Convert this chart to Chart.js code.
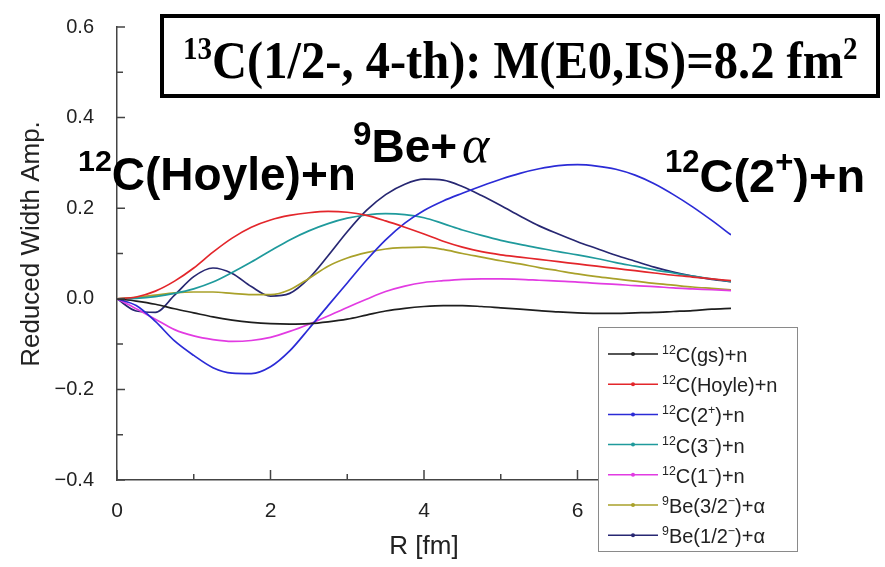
<!DOCTYPE html>
<html>
<head>
<meta charset="utf-8">
<script src="https://cdn.jsdelivr.net/npm/chart.js@4.4.1/dist/chart.umd.min.js"></script>
<style>
  html, body { margin: 0; padding: 0; background: #fff; }
  #wrap { width: 885px; height: 567px; }
</style>
</head>
<body>
<div id="wrap"><canvas id="widthChart" width="885" height="567"></canvas></div>
<script>
// R grid [fm]
const radius = [0, 0.25, 0.5, 0.75, 1, 1.25, 1.5, 1.75, 2, 2.25, 2.5, 2.75, 3, 3.25, 3.5, 3.75,
                4, 4.25, 4.5, 4.75, 5, 5.25, 5.5, 5.75, 6, 6.25, 6.5, 6.75, 7, 7.25, 7.5, 7.75, 8];

// reduced width amplitudes
const c12gs = [0, -0.005, -0.012, -0.022, -0.031, -0.040, -0.047, -0.052, -0.055, -0.056, -0.055, -0.051, -0.045, -0.036,
               -0.027, -0.021, -0.017, -0.015, -0.015, -0.017, -0.020, -0.023, -0.026, -0.029, -0.031, -0.032, -0.032,
               -0.031, -0.030, -0.028, -0.026, -0.023, -0.021];
const c12hoyle = [0, 0.004, 0.017, 0.039, 0.068, 0.103, 0.134, 0.158, 0.174, 0.184, 0.190, 0.193, 0.191, 0.184, 0.172,
                  0.158, 0.143, 0.127, 0.114, 0.104, 0.097, 0.092, 0.087, 0.082, 0.077, 0.072, 0.067, 0.062, 0.057,
                  0.052, 0.048, 0.044, 0.040];
const c12twoPlus = [0, -0.015, -0.050, -0.093, -0.125, -0.152, -0.164, -0.165, -0.150, -0.115, -0.066, -0.015, 0.035,
                    0.085, 0.130, 0.167, 0.195, 0.216, 0.233, 0.249, 0.264, 0.277, 0.287, 0.294, 0.296, 0.293, 0.286,
                    0.273, 0.254, 0.230, 0.203, 0.173, 0.141];
const c12threeMinus = [0, 0.001, 0.005, 0.012, 0.022, 0.037, 0.058, 0.081, 0.106, 0.130, 0.150, 0.166, 0.178, 0.185,
                       0.188, 0.186, 0.179, 0.166, 0.152, 0.140, 0.129, 0.120, 0.112, 0.104, 0.097, 0.089, 0.080, 0.072,
                       0.064, 0.057, 0.050, 0.044, 0.038];
const c12oneMinus = [0, -0.022, -0.045, -0.068, -0.082, -0.090, -0.094, -0.092, -0.085, -0.072, -0.056, -0.038, -0.019,
                     -0.001, 0.016, 0.028, 0.036, 0.040, 0.043, 0.044, 0.044, 0.043, 0.041, 0.039, 0.037, 0.034, 0.032,
                     0.029, 0.027, 0.024, 0.022, 0.020, 0.018];
const be9ThreeHalf = [0, 0.003, 0.008, 0.013, 0.015, 0.015, 0.012, 0.009, 0.009, 0.020, 0.045, 0.072, 0.090, 0.102,
                      0.110, 0.113, 0.114, 0.109, 0.100, 0.092, 0.084, 0.077, 0.069, 0.062, 0.055, 0.049, 0.044, 0.039,
                      0.034, 0.030, 0.026, 0.023, 0.020];
const be9OneHalf = [0, -0.027, -0.030, 0.008, 0.049, 0.068, 0.056, 0.027, 0.006, 0.012, 0.045, 0.095, 0.148, 0.195,
                    0.230, 0.253, 0.264, 0.262, 0.248, 0.228, 0.206, 0.183, 0.161, 0.143, 0.126, 0.111, 0.096, 0.083,
                    0.070, 0.059, 0.050, 0.043, 0.038];

const seriesNames = ['^{12}C(gs)+n', '^{12}C(Hoyle)+n', '^{12}C(2^{+})+n', '^{12}C(3^{\u2212})+n',
                     '^{12}C(1^{\u2212})+n', '^{9}Be(3/2^{\u2212})+\u03b1', '^{9}Be(1/2^{\u2212})+\u03b1'];
const seriesColors = ['#1e1e1e', '#e3262b', '#2b2bd6', '#1f9a9c', '#e23be2', '#a9a12a', '#272772'];
const seriesValues = [c12gs, c12hoyle, c12twoPlus, c12threeMinus, c12oneMinus, be9ThreeHalf, be9OneHalf];

const xMajorTicks = [0, 2, 4, 6, 8];
const xMinorTicks = [1, 3, 5, 7];
const yMajorTicks = [-0.4, -0.2, 0, 0.2, 0.4, 0.6];
const yMinorTicks = [-0.3, -0.1, 0.1, 0.3, 0.5];

const sans = '"Liberation Sans", Arial, sans-serif';
const serif = '"Liberation Serif", "Times New Roman", serif';

// draws text with ^{...} superscripts, returns end x
function drawRich(ctx, text, x, y, f) {
  const parts = text.split(/(\^\{[^}]*\})/);
  parts.forEach(p => {
    if (!p) return;
    const sup = p.startsWith('^{');
    const s = sup ? p.slice(2, -1) : p;
    const size = sup ? f.size * f.supScale : f.size;
    ctx.font = `${f.style || ''} ${f.weight || ''} ${size}px ${f.family}`;
    ctx.fillText(s, x, sup ? y - f.size * f.supRise : y);
    x += ctx.measureText(s).width;
  });
  return x;
}

const overlayPlugin = {
  id: 'overlay',
  afterDraw(chart) {
    const ctx = chart.ctx;
    const xs = chart.scales.x, ys = chart.scales.y;
    const area = chart.chartArea;
    ctx.save();

    // inward tick marks
    ctx.strokeStyle = '#444';
    ctx.lineWidth = 1.5;
    ctx.beginPath();
    yMajorTicks.forEach(v => { const p = ys.getPixelForValue(v); ctx.moveTo(area.left, p); ctx.lineTo(area.left + 8, p); });
    yMinorTicks.forEach(v => { const p = ys.getPixelForValue(v); ctx.moveTo(area.left, p); ctx.lineTo(area.left + 6, p); });
    xMajorTicks.forEach(v => { const p = xs.getPixelForValue(v); ctx.moveTo(p, area.bottom); ctx.lineTo(p, area.bottom - 10); });
    xMinorTicks.forEach(v => { const p = xs.getPixelForValue(v); ctx.moveTo(p, area.bottom); ctx.lineTo(p, area.bottom - 6); });
    ctx.stroke();

    // y axis title
    ctx.save();
    ctx.translate(32, 244);
    ctx.rotate(-Math.PI / 2);
    ctx.fillStyle = '#222';
    ctx.font = `26px ${sans}`;
    ctx.textAlign = 'center';
    ctx.textBaseline = 'middle';
    ctx.fillText('Reduced Width Amp.', 0, 0);
    ctx.restore();

    // legend
    ctx.fillStyle = '#fff';
    ctx.fillRect(598, 327, 199, 224);
    ctx.strokeStyle = '#8a8a8a';
    ctx.lineWidth = 1;
    ctx.strokeRect(598.5, 327.5, 199, 224);
    ctx.textBaseline = 'alphabetic';
    seriesNames.forEach((name, i) => {
      const ly = 354 + i * 30.2;
      ctx.strokeStyle = seriesColors[i];
      ctx.lineWidth = 1.5;
      ctx.beginPath(); ctx.moveTo(608, ly); ctx.lineTo(658, ly); ctx.stroke();
      ctx.fillStyle = seriesColors[i];
      ctx.beginPath(); ctx.arc(633, ly, 2, 0, Math.PI * 2); ctx.fill();
      ctx.fillStyle = '#222';
      drawRich(ctx, name, 662, ly + 8, { size: 20, family: sans, supScale: 0.62, supRise: 0.4 });
    });

    // big annotations
    ctx.fillStyle = '#000';
    const big = { size: 46, weight: 'bold', family: sans, supScale: 0.66, supRise: 0.42 };
    drawRich(ctx, '^{12}C(Hoyle)+n', 78, 190, big);
    drawRich(ctx, '^{12}C(2^{+})+n', 665, 192, { ...big, size: 47 });
    let ex = drawRich(ctx, '^{9}Be+', 353, 162, { ...big, supScale: 0.72, supRise: 0.36 });
    ctx.font = `italic 52px ${serif}`;
    ctx.fillText('\u03b1', ex + 5, 162);

    // title box
    ctx.fillStyle = '#fff';
    ctx.fillRect(162, 16, 716, 80);
    ctx.strokeStyle = '#000';
    ctx.lineWidth = 4;
    ctx.strokeRect(162, 16, 716, 80);
    ctx.fillStyle = '#000';
    ctx.save();
    ctx.translate(183, 78);
    ctx.scale(0.915, 1);
    drawRich(ctx, '^{13}C(1/2-, 4-th): M(E0,IS)=8.2 fm^{2}', 0, 0,
             { size: 53, weight: 'bold', family: serif, supScale: 0.6, supRise: 0.36 });
    ctx.restore();

    ctx.restore();
  }
};

const ctx = document.getElementById('widthChart').getContext('2d');
new Chart(ctx, {
  type: 'line',
  data: {
    datasets: seriesValues.map((vals, i) => ({
      label: seriesNames[i],
      data: radius.map((r, k) => ({ x: r, y: vals[k] })),
      borderColor: seriesColors[i],
      borderWidth: 1.7,
      pointRadius: 0,
      fill: false,
      cubicInterpolationMode: 'monotone'
    }))
  },
  options: {
    responsive: false,
    animation: false,
    devicePixelRatio: 1,
    layout: { padding: { left: 0, right: 154, top: 27, bottom: 0 } },
    plugins: { legend: { display: false }, tooltip: { enabled: false }, title: { display: false } },
    scales: {
      x: {
        type: 'linear', min: 0, max: 8,
        afterFit: s => { s.height = 87; },
        afterBuildTicks: s => { s.ticks = xMajorTicks.map(v => ({ value: v })); },
        grid: { display: false },
        border: { display: true, color: '#444', width: 1.5 },
        ticks: { padding: 11, color: '#222', font: { size: 21, family: sans } },
        title: { display: true, text: 'R [fm]', color: '#222', padding: { top: 0, bottom: 5 },
                 font: { size: 26, family: sans } }
      },
      y: {
        min: -0.4, max: 0.6,
        afterFit: s => { s.width = 117; },
        afterBuildTicks: s => { s.ticks = yMajorTicks.map(v => ({ value: v })); },
        grid: { display: false },
        border: { display: true, color: '#444', width: 1.5 },
        ticks: {
          padding: 15, color: '#222', autoSkip: false,
          font: { size: 20, family: sans },
          callback: v => (v < 0 ? '\u2212' : '') + Math.abs(v).toFixed(1)
        },
        title: { display: false }
      }
    }
  },
  plugins: [overlayPlugin]
});
</script>
</body>
</html>
